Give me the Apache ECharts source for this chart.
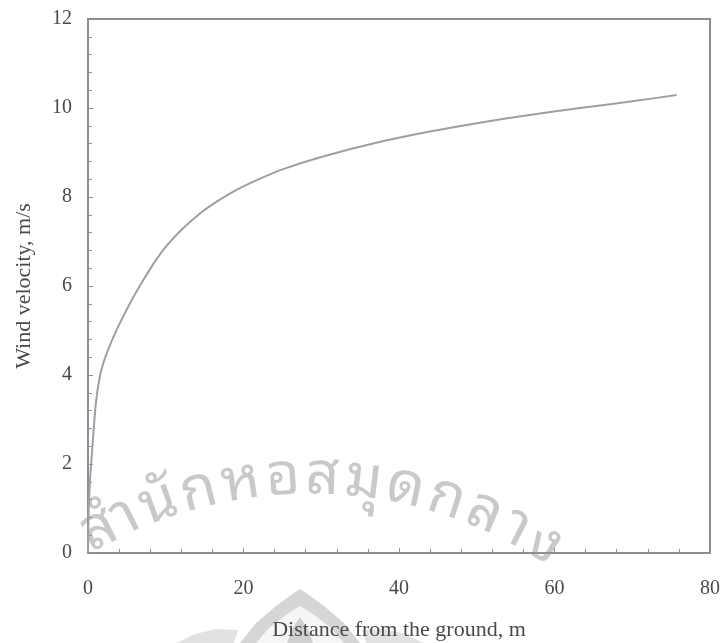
<!DOCTYPE html>
<html>
<head>
<meta charset="utf-8">
<script src="https://cdn.jsdelivr.net/npm/echarts@6/dist/echarts.min.js"></script>
<style>
html,body{margin:0;padding:0;background:#fff;}
#chart{width:722px;height:643px;}
</style>
</head>
<body>
<div id="chart"></div>
<script>
// Distance from the ground (m)
const heights = [0, 0.05, 0.13, 0.3, 0.55, 1.0, 1.5, 2.0, 2.8, 3.7, 4.6, 5.8, 7.0, 8.5, 10.1, 12, 14.4, 16.6, 19, 22, 25, 30, 37.6, 44, 50.4, 57, 63.3, 70, 75.7];
// Wind velocity (m/s)
const velocities = [0, 0.7, 1.2, 1.75, 2.35, 3.35, 3.95, 4.28, 4.66, 5.02, 5.34, 5.74, 6.1, 6.52, 6.9, 7.26, 7.63, 7.9, 8.15, 8.4, 8.62, 8.9, 9.24, 9.47, 9.67, 9.85, 10.0, 10.15, 10.29];
const xTicks = [0, 20, 40, 60, 80];
const yTicks = [0, 2, 4, 6, 8, 10, 12];
const xName = 'Distance from the ground, m';
const yName = 'Wind velocity, m/s';
// watermark text, split into Thai glyph clusters
const watermarkClusters = ['สำ', 'นั', 'ก', 'ห', 'อ', 'ส', 'มุ', 'ด', 'ก', 'ล', 'า', 'ง'];

const chart = echarts.init(document.getElementById('chart'));
const serif = '"Liberation Serif", "Times New Roman", serif';
const axisColor = '#8e8c94';
const textColor = '#4a4a4a';
const wmColor = '#c9c9c9';

// watermark laid out along an arc, spaced by measured glyph widths
const wmFont = '"Noto Sans Thai Looped", "Noto Sans Thai", sans-serif';
const arc = {cx: 310, cy: 923, r: 446, xStart: 84, span: 474, size: 59};
const ctx = document.createElement('canvas').getContext('2d');
ctx.font = arc.size + 'px ' + wmFont;
const widths = watermarkClusters.map(t => ctx.measureText(t).width);
const totalW = widths.reduce((a, b) => a + b, 0);
const phiStart = Math.asin((arc.xStart - arc.cx) / arc.r);
const phiEnd = Math.asin((arc.xStart + arc.span - arc.cx) / arc.r);
const arcLen = (phiEnd - phiStart) * arc.r;
const gap = (arcLen - totalW) / (watermarkClusters.length - 1);
let acc = 0;
const graphics = watermarkClusters.map((t, i) => {
  const s = acc + widths[i] / 2;
  acc += widths[i] + gap;
  const phi = phiStart + s / arc.r;
  return {
    type: 'text', z: -10, silent: true,
    x: arc.cx + arc.r * Math.sin(phi),
    y: arc.cy - arc.r * Math.cos(phi),
    rotation: -phi,
    style: {text: t, fontSize: arc.size, fontWeight: 'normal', fontFamily: wmFont,
      fill: wmColor, align: 'center', verticalAlign: 'middle'}
  };
});
// faint emblem at the bottom
const logoOuter = [[240,643],[256,623],[276,606],[294,593],[300,589],[306,593],[324,606],[344,623],[360,643]];
const logoInner = [[256,643],[269,628],[287,614],[300,606],[313,614],[331,628],[344,643]];
const logoFlame = [[287,643],[292,629],[300,617],[308,629],[313,643]];
const wingL = [[176,643],[195,634],[216,629],[238,630],[234,643]];
const wingR = [[424,643],[405,634],[384,629],[362,630],[366,643]];
graphics.push(
  {type: 'polygon', z: -10, silent: true, shape: {points: wingL}, style: {fill: '#e2e2e2'}},
  {type: 'polygon', z: -10, silent: true, shape: {points: wingR}, style: {fill: '#e2e2e2'}},
  {type: 'polygon', z: -10, silent: true, shape: {points: logoOuter}, style: {fill: '#d6d6d6'}},
  {type: 'polygon', z: -9, silent: true, shape: {points: logoInner}, style: {fill: '#f6f6f6'}},
  {type: 'polygon', z: -8, silent: true, shape: {points: logoFlame}, style: {fill: '#d0d0d0'}}
);

chart.setOption({
  animation: false,
  backgroundColor: '#fff',
  grid: {left: 88, right: 12, top: 19, bottom: 90, containLabel: false, outerBoundsMode: 'none',
         show: true, borderColor: axisColor, borderWidth: 2},
  graphic: graphics,
  xAxis: {
    type: 'value', min: xTicks[0], max: xTicks[xTicks.length-1], interval: 20,
    name: xName, nameLocation: 'middle', nameGap: 66,
    nameTextStyle: {fontFamily: serif, fontSize: 22, color: textColor},
    axisLine: {show: true, onZero: false, lineStyle: {color: axisColor, width: 2}},
    axisTick: {show: true, inside: true, length: 5, lineStyle: {color: axisColor}},
    minorTick: {show: true, splitNumber: 5, length: 4, lineStyle: {color: axisColor}},
    axisLabel: {margin: 26, fontFamily: serif, fontSize: 20, color: textColor},
    splitLine: {show: false}
  },
  yAxis: {
    type: 'value', min: yTicks[0], max: yTicks[yTicks.length-1], interval: 2,
    name: yName, nameLocation: 'middle', nameGap: 53,
    nameTextStyle: {fontFamily: serif, fontSize: 22, color: textColor},
    axisLine: {show: true, onZero: false, lineStyle: {color: axisColor, width: 2}},
    axisTick: {show: true, inside: true, length: 5, lineStyle: {color: axisColor}},
    minorTick: {show: true, splitNumber: 5, length: 4, lineStyle: {color: axisColor}},
    axisLabel: {margin: 16, fontFamily: serif, fontSize: 20, color: textColor},
    splitLine: {show: false}
  },
  series: [{
    type: 'line',
    data: heights.map((h, i) => [h, velocities[i]]),
    smooth: 0.2,
    showSymbol: false,
    lineStyle: {color: '#a29ca8', width: 2},
    z: 3
  }]
});
</script>
</body>
</html>
